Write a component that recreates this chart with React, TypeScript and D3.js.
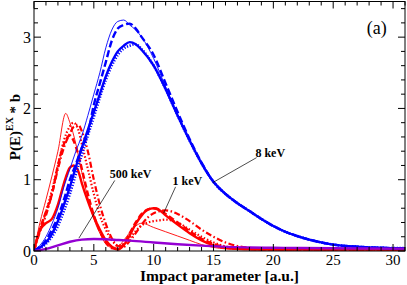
import * as d3 from 'd3';

// 8 keV (blue)
const blueX = [0, 0.5, 1, 1.5, 2, 2.5, 3, 3.5, 4, 4.5, 5, 5.5, 6, 6.5, 7, 7.5, 8, 8.5, 9, 10, 11, 12, 13, 14, 15, 16, 17, 18, 19, 20, 21, 22, 23, 24, 25, 26, 27, 28, 29, 30, 31];
const blueThick = [0, 0.05, 0.12, 0.24, 0.42, 0.65, 0.9, 1.18, 1.45, 1.7, 1.95, 2.2, 2.45, 2.65, 2.8, 2.88, 2.93, 2.9, 2.82, 2.6, 2.27, 1.9, 1.55, 1.23, 0.97, 0.8, 0.67, 0.56, 0.45, 0.35, 0.27, 0.21, 0.16, 0.12, 0.09, 0.07, 0.06, 0.05, 0.045, 0.04, 0.04];
const blueDotted = [0, 0.04, 0.1, 0.2, 0.35, 0.56, 0.8, 1.08, 1.35, 1.62, 1.88, 2.15, 2.4, 2.6, 2.75, 2.84, 2.88, 2.9, 2.83, 2.6, 2.27, 1.9, 1.55, 1.23, 0.97, 0.8, 0.67, 0.56, 0.45, 0.35, 0.27, 0.21, 0.16, 0.12, 0.09, 0.07, 0.06, 0.05, 0.045, 0.04, 0.04];
const blueDashed = [0, 0.06, 0.15, 0.3, 0.48, 0.72, 1.0, 1.22, 1.45, 1.65, 2.05, 2.35, 2.65, 2.95, 3.12, 3.17, 3.19, 3.12, 3.0, 2.75, 2.35, 1.95, 1.57, 1.24, 0.97, 0.8, 0.67, 0.56, 0.45, 0.35, 0.27, 0.21, 0.16, 0.12, 0.09, 0.07, 0.06, 0.05, 0.045, 0.04, 0.04];
const blueThin = [0, 0.08, 0.2, 0.38, 0.6, 0.9, 1.15, 1.4, 1.62, 1.9, 2.2, 2.5, 2.85, 3.1, 3.22, 3.24, 3.17, 3.1, 3.0, 2.7, 2.3, 1.9, 1.55, 1.23, 0.97, 0.8, 0.67, 0.56, 0.45, 0.35, 0.27, 0.21, 0.16, 0.12, 0.09, 0.07, 0.06, 0.05, 0.045, 0.04, 0.04];

// 1 keV (red)
const redX = [0, 0.3, 0.6, 1, 1.5, 2, 2.5, 3, 3.3, 3.7, 4, 4.5, 5, 5.5, 6, 6.5, 7, 7.5, 8, 8.5, 9, 9.5, 10, 10.5, 11, 12, 13, 14, 15, 16, 17, 18, 20, 25, 31];
const redThick = [0, 0.2, 0.32, 0.39, 0.45, 0.65, 0.95, 1.17, 1.2, 1.12, 0.95, 0.7, 0.48, 0.3, 0.15, 0.06, 0.02, 0.08, 0.22, 0.38, 0.5, 0.58, 0.6, 0.57, 0.5, 0.37, 0.25, 0.15, 0.08, 0.045, 0.03, 0.025, 0.02, 0.02, 0.02];
const redDashed = [0, 0.2, 0.36, 0.55, 0.8, 1.2, 1.5, 1.62, 1.55, 1.35, 1.15, 0.8, 0.5, 0.28, 0.12, 0.04, 0.03, 0.1, 0.25, 0.4, 0.52, 0.58, 0.6, 0.58, 0.52, 0.4, 0.28, 0.17, 0.1, 0.055, 0.035, 0.025, 0.02, 0.02, 0.02];
const redDotted = [0, 0.18, 0.35, 0.55, 0.85, 1.2, 1.55, 1.75, 1.8, 1.7, 1.5, 1.15, 0.8, 0.5, 0.3, 0.15, 0.08, 0.1, 0.18, 0.28, 0.36, 0.4, 0.42, 0.43, 0.44, 0.4, 0.3, 0.2, 0.12, 0.065, 0.04, 0.03, 0.02, 0.02, 0.02];
const redDashDot = [0, 0.17, 0.32, 0.5, 0.8, 1.15, 1.45, 1.65, 1.74, 1.77, 1.68, 1.4, 1.0, 0.65, 0.38, 0.18, 0.07, 0.06, 0.14, 0.25, 0.37, 0.47, 0.53, 0.56, 0.57, 0.52, 0.42, 0.3, 0.2, 0.12, 0.07, 0.045, 0.025, 0.02, 0.02];
const redThinX = [0, 0.5, 1, 1.5, 2, 2.65, 3, 3.5, 4, 4.5, 5, 5.5, 6, 6.5, 7, 7.5, 8, 8.5, 9, 10, 11, 12, 13, 14, 15, 16, 17, 18, 20, 25, 31];
const redThin = [0, 0.4, 0.72, 1.05, 1.4, 1.93, 1.8, 1.5, 1.1, 0.75, 0.45, 0.25, 0.1, 0.05, 0.06, 0.15, 0.26, 0.35, 0.39, 0.33, 0.27, 0.21, 0.15, 0.09, 0.05, 0.03, 0.02, 0.02, 0.02, 0.02, 0.02];

// 500 keV (purple)
const purpleX = [0, 1, 2, 3, 4, 5, 6, 7, 8, 10, 12, 14, 16, 18, 20, 22, 25, 28, 31];
const purpleY = [0, 0.03, 0.08, 0.13, 0.16, 0.168, 0.165, 0.155, 0.145, 0.12, 0.095, 0.075, 0.058, 0.05, 0.045, 0.042, 0.038, 0.035, 0.033];

const xMajor = [0, 5, 10, 15, 20, 25, 30];
const yMajor = [0, 1, 2, 3];

const labels = [
  { text: '8 keV', x: 18.5, y: 1.32, lx: [18.6, 14.94], ly: [1.31, 0.96] },
  { text: '1 keV', x: 11.58, y: 0.92, lx: [11.83, 10.83], ly: [0.9, 0.53] },
  { text: '500 keV', x: 6.33, y: 1.02, lx: [6.75, 3.75], ly: [0.99, 0.18] },
];

const W = 407;
const H = 285;

export default function App() {
  const x = d3.scaleLinear().domain([0, 31]).range([34, 405]);
  const y = d3.scaleLinear().domain([0, 3.5]).range([251, 1.5]);

  const line = d3.line<[number, number]>()
    .x(d => x(d[0]))
    .y(d => y(d[1]))
    .curve(d3.curveMonotoneX);

  const pts = (xs: number[], ys: number[]) => xs.map((v, i) => [v, ys[i]] as [number, number]);

  const series = [
    { d: pts(redThinX, redThin), color: '#ff0000', w: 0.9, dash: null, linear: true },
    { d: pts(redX, redDotted), color: '#ff0000', w: 2.2, dash: '1.5,2' },
    { d: pts(redX, redDashDot), color: '#ff0000', w: 2.2, dash: '6,2.5,1.5,2.5' },
    { d: pts(redX, redDashed), color: '#ff0000', w: 2.4, dash: '6,3' },
    { d: pts(redX, redThick), color: '#ff0000', w: 2.4, dash: null },
    { d: pts(blueX, blueThin), color: '#0000ff', w: 0.9, dash: null },
    { d: pts(blueX, blueDashed), color: '#0000ff', w: 2.4, dash: '7,3' },
    { d: pts(blueX, blueDotted), color: '#0000ff', w: 2.6, dash: '1.2,1.6' },
    { d: pts(blueX, blueThick), color: '#0000ff', w: 2.4, dash: null },
    { d: pts(purpleX, purpleY), color: '#9400d3', w: 2.4, dash: null },
  ];

  const xMinor = d3.range(0, 32, 1).filter(v => v % 5 !== 0);
  const yMinor = d3.range(0, 3.51, 0.2).filter(v => Math.abs(v - Math.round(v)) > 0.01);
  const [x0, x1] = x.range();
  const [y0, y1] = y.range();
  const font = '"Liberation Serif", "Times New Roman", serif';

  return (
    <svg width={W} height={H} style={{ position: 'absolute', left: 0, top: 0, background: '#fff' }} fontFamily={font}>
      <defs>
        <clipPath id="plot">
          <rect x={x0} y={y1} width={x1 - x0} height={y0 - y1} />
        </clipPath>
      </defs>
      <g clipPath="url(#plot)">
        {series.map((s, i) => (
          <path key={i} d={line(s.d) || ''} fill="none" stroke={s.color} strokeWidth={s.w}
            strokeDasharray={s.dash || undefined} strokeLinejoin="round" />
        ))}
      </g>

      {/* leader lines + labels */}
      {labels.map(l => (
        <g key={l.text}>
          <line x1={x(l.lx[0])} y1={y(l.ly[0])} x2={x(l.lx[1])} y2={y(l.ly[1])} stroke="#000" strokeWidth={0.7} />
          <text x={x(l.x)} y={y(l.y)} fontSize={12} fontWeight="bold">{l.text}</text>
        </g>
      ))}
      <text x={x(27.8)} y={y(3.05)} fontSize={18}>(a)</text>

      {/* frame */}
      <rect x={x0} y={y1} width={x1 - x0} height={y0 - y1} fill="none" stroke="#000" strokeWidth={1} />

      {/* x ticks */}
      {xMajor.map(v => (
        <g key={'xm' + v}>
          <line x1={x(v)} x2={x(v)} y1={y0} y2={y0 - 7} stroke="#000" />
          <line x1={x(v)} x2={x(v)} y1={y1} y2={y1 + 7} stroke="#000" />
          <text x={x(v)} y={264.5} fontSize={15} textAnchor="middle">{v}</text>
        </g>
      ))}
      {xMinor.map(v => (
        <g key={'xn' + v}>
          <line x1={x(v)} x2={x(v)} y1={y0} y2={y0 - 4} stroke="#000" />
          <line x1={x(v)} x2={x(v)} y1={y1} y2={y1 + 4} stroke="#000" />
        </g>
      ))}
      {/* y ticks */}
      {yMajor.map(v => (
        <g key={'ym' + v}>
          <line x1={x0} x2={x0 + 7} y1={y(v)} y2={y(v)} stroke="#000" />
          <line x1={x1} x2={x1 - 7} y1={y(v)} y2={y(v)} stroke="#000" />
          <text x={31} y={y(v) + 5.5} fontSize={16} textAnchor="end">{v}</text>
        </g>
      ))}
      {yMinor.map(v => (
        <g key={'yn' + v}>
          <line x1={x0} x2={x0 + 4} y1={y(v)} y2={y(v)} stroke="#000" />
          <line x1={x1} x2={x1 - 4} y1={y(v)} y2={y(v)} stroke="#000" />
        </g>
      ))}

      {/* axis titles */}
      <text x={(x0 + x1) / 2} y={281} fontSize={15.5} fontWeight="bold" textAnchor="middle">Impact parameter [a.u.]</text>
      <text transform="translate(20,127) rotate(-90)" fontSize={15} fontWeight="bold" textAnchor="middle">
        P(E)<tspan fontSize={10} dy={-7}>EX</tspan><tspan dy={7}> * b</tspan>
      </text>
    </svg>
  );
}
